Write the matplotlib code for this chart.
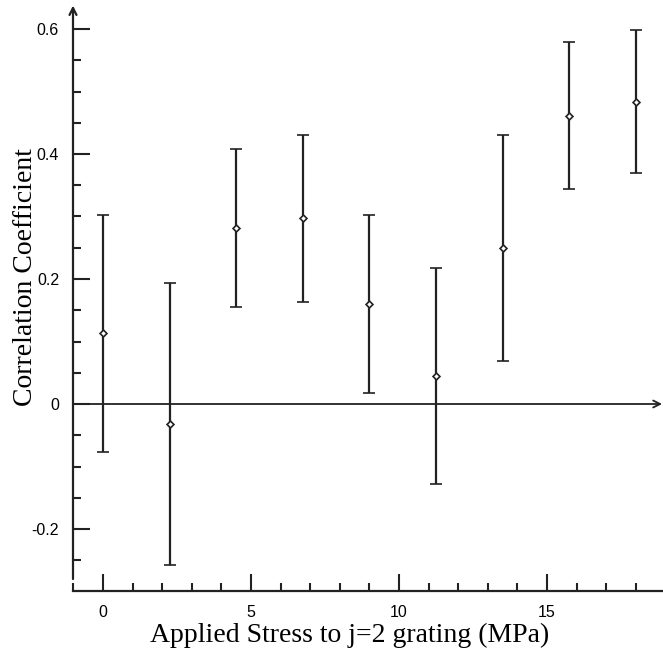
import numpy as np
import matplotlib
matplotlib.use('Agg')
import matplotlib.pyplot as plt
from matplotlib.ticker import MultipleLocator

stress = [0, 2.25, 4.5, 6.75, 9, 11.25, 13.5, 15.75, 18]
corr = [0.114, -0.032, 0.282, 0.298, 0.160, 0.045, 0.250, 0.461, 0.483]
upper = [0.302, 0.194, 0.408, 0.430, 0.302, 0.218, 0.430, 0.579, 0.598]
lower = [-0.077, -0.258, 0.155, 0.164, 0.017, -0.128, 0.069, 0.344, 0.369]

y_ticks = [-0.2, 0, 0.2, 0.4, 0.6]
y_labels = ['-0.2', '0', '0.2', '0.4', '0.6']
x_ticks = [0, 5, 10, 15]

col = '#222222'
W, H = 663, 653
fig = plt.figure(figsize=(W / 100, H / 100), dpi=100)
ax = fig.add_axes([73 / W, (H - 591) / H, (W - 73) / W, (591 - 8) / H])

xmin, xmax = -1.0135, 18.92
ymin, ymax = -0.2992, 0.6336
ax.set_xlim(xmin, xmax)
ax.set_ylim(ymin, ymax)

err = [np.array(corr) - np.array(lower), np.array(upper) - np.array(corr)]
ax.errorbar(stress, corr, yerr=err, fmt='D', ms=3.5, mfc='white', mec=col,
            mew=1.2, ecolor=col, elinewidth=1.6, capsize=4.5, capthick=1.6,
            color=col, zorder=3)

# Achsen
for s in ['top', 'right', 'left']:
    ax.spines[s].set_visible(False)
ax.spines['bottom'].set_linewidth(1.6)
ax.spines['bottom'].set_color(col)

ax.annotate('', xy=(xmin, ymax + 0.004), xytext=(xmin, -0.28),
            arrowprops=dict(arrowstyle='->,head_length=0.5,head_width=0.25',
                            color=col, lw=1.6, shrinkA=0, shrinkB=0),
            annotation_clip=False)
ax.annotate('', xy=(xmax - 0.03, 0), xytext=(xmin, 0),
            arrowprops=dict(arrowstyle='->,head_length=0.5,head_width=0.25',
                            color=col, lw=1.3, shrinkA=0, shrinkB=0),
            annotation_clip=False)

ax.set_yticks(y_ticks)
ax.set_yticklabels(y_labels)
ax.yaxis.set_minor_locator(MultipleLocator(0.05))
ax.set_xticks(x_ticks)
ax.xaxis.set_minor_locator(MultipleLocator(1))
ax.tick_params(which='both', direction='in', color=col, width=1.5,
               labelsize=11.5, labelfontfamily='Liberation Sans')
ax.tick_params(which='major', length=12)
ax.tick_params(which='minor', length=6)
ax.tick_params(axis='y', pad=10)
ax.tick_params(axis='x', pad=10)

ax.set_xlabel('Applied Stress to j=2 grating (MPa)', family='Liberation Serif',
              fontsize=20, va='baseline')
ax.set_ylabel('Correlation Coefficient', family='Liberation Serif', fontsize=20,
              va='baseline')
ax.xaxis.set_label_coords((350 - 73) / 590, (591 - 642) / 583)
ax.yaxis.set_label_coords((32 - 73) / 590, (591 - 277) / 583)

fig.savefig('out.png', dpi=100)
